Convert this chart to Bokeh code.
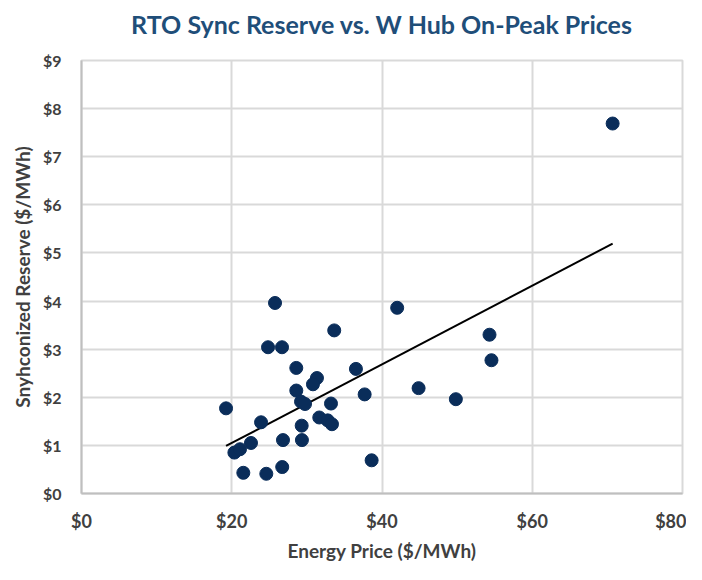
import numpy as np
from bokeh.plotting import figure
from bokeh.models import FixedTicker, Range1d, Title
from bokeh.embed import file_html
from bokeh.resources import INLINE

energy_price = [70.7, 25.76, 42.02, 33.64, 24.83, 26.69, 54.31, 54.57, 28.59, 36.53,
                31.34, 30.81, 28.59, 37.69, 44.87, 49.83, 19.24, 29.22, 29.75, 33.21,
                23.90, 31.65, 32.77, 33.34, 29.31, 26.82, 29.34, 22.56, 20.35, 21.10,
                21.54, 24.60, 26.72, 38.62]
sync_reserve = [7.69, 3.96, 3.86, 3.39, 3.04, 3.04, 3.30, 2.77, 2.61, 2.59,
                2.40, 2.27, 2.14, 2.06, 2.19, 1.96, 1.77, 1.91, 1.86, 1.87,
                1.48, 1.58, 1.52, 1.44, 1.41, 1.11, 1.11, 1.05, 0.85, 0.92,
                0.43, 0.41, 0.55, 0.69]

x_ticks = [0, 20, 40, 60, 80]
x_tick_labels = ["$0", "$20", "$40", "$60", "$80"]
y_ticks = [0, 1, 2, 3, 4, 5, 6, 7, 8, 9]
y_tick_labels = ["$0", "$1", "$2", "$3", "$4", "$5", "$6", "$7", "$8", "$9"]

FONT = "Lato"
TXT = "#404040"

p = figure(width=686, height=564, output_backend="svg", toolbar_location=None,
           x_range=Range1d(0, 80), y_range=Range1d(0, 9),
           min_border_left=81, min_border_right=4, min_border_top=60,
           min_border_bottom=68, border_fill_color="white")

p.title = Title(text="RTO Sync Reserve vs. W Hub On-Peak Prices", align="center",
                text_font=FONT, text_font_size="25px", text_font_style="bold",
                text_color="#1f4e79", standoff=0)
# empty spacer between the title and the plot frame
p.add_layout(Title(text=" ", text_font_size="10px", standoff=9), "above")

# trendline (least squares fit of the data)
slope, intercept = np.polyfit(energy_price, sync_reserve, 1)
xs = np.array([min(energy_price), max(energy_price)])
p.line(xs, slope * xs + intercept, line_color="black", line_width=2)

p.scatter(energy_price, sync_reserve, size=13, fill_color="#0a2d5a",
          line_color="#0a2d5a")

p.xaxis.ticker = FixedTicker(ticks=x_ticks)
p.yaxis.ticker = FixedTicker(ticks=y_ticks)
p.xaxis.major_label_overrides = dict(zip(x_ticks, x_tick_labels))
p.yaxis.major_label_overrides = dict(zip(y_ticks, y_tick_labels))

for ax in (p.xaxis, p.yaxis):
    ax.major_tick_line_color = None
    ax.minor_tick_line_color = None
    ax.axis_line_color = "#bfbfbf"
    ax.axis_line_width = 2
    ax.major_label_text_font = FONT
    ax.major_label_text_font_style = "bold"
    ax.major_label_text_color = TXT
    ax.axis_label_text_font = FONT
    ax.axis_label_text_font_style = "bold"
    ax.axis_label_text_color = TXT
    ax.axis_label_text_font_size = "19px"

p.xaxis.major_label_text_font_size = "18px"
p.yaxis.major_label_text_font_size = "16px"
p.xaxis.major_label_standoff = 10
p.yaxis.major_label_standoff = 14
p.xaxis.axis_label = "Energy Price ($/MWh)"
p.yaxis.axis_label = "Snyhconized Reserve ($/MWh)"
p.xaxis.axis_label_standoff = 4
p.yaxis.axis_label_standoff = 6

p.xgrid.ticker = FixedTicker(ticks=x_ticks)
p.ygrid.ticker = FixedTicker(ticks=y_ticks)
p.grid.grid_line_color = "#d9d9d9"
p.grid.grid_line_width = 2
p.outline_line_color = "#d9d9d9"
p.outline_line_width = 2

open("out.html", "w").write(file_html(p, INLINE))
